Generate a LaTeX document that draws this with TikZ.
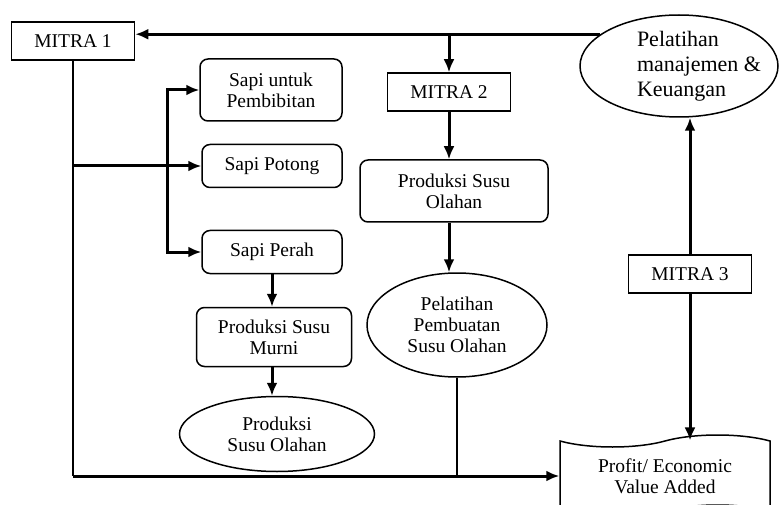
\documentclass[tikz,border=0pt]{standalone}
\usepackage{fontspec}
\setmainfont{Liberation Serif}
\usetikzlibrary{shapes.geometric,shapes.symbols,arrows.meta,positioning}

\begin{document}
\begin{tikzpicture}[
        x=1pt, y=-1pt,
        >={Latex[length=13pt,width=11pt]},
        font=\fontsize{19.5}{21}\selectfont,
        box/.style={draw, line width=1.5pt, minimum width=123pt, minimum height=38pt, inner sep=2pt},
        rbox/.style={draw, line width=1.5pt, rounded corners=8pt, align=center, inner sep=2pt},
        oval/.style={draw, ellipse, line width=1.5pt, align=center, inner sep=0pt},
        doc/.style={draw, tape, line width=1.5pt, align=center, tape bend height=12pt},
        arr/.style={->, line width=3pt},
        link/.style={line width=1.5pt}
    ]
        \clip (0,0) rectangle (779,505);

        \node[box] (m1) at (73,41) {MITRA 1};
        \node[box] (m2) at (449,92) {MITRA 2};
        \node[box] (m3) at (690,274) {MITRA 3};

        \node[rbox, minimum width=142pt, minimum height=62pt] (pemb) at (271,90) {Sapi untuk\\Pembibitan};
        \node[rbox, minimum width=140pt, minimum height=43pt] (potong) at (272,166) {Sapi Potong};
        \node[rbox, minimum width=140pt, minimum height=43pt] (perah) at (272,252) {Sapi Perah};
        \node[rbox, minimum width=155pt, minimum height=59pt] (murni) at (274,337) {Produksi Susu\\Murni};
        \node[oval, minimum width=195pt, minimum height=75pt] (olah1) at (277,434) {Produksi\\Susu Olahan};

        \node[rbox, minimum width=188pt, minimum height=62pt] (olah2) at (454,191) {Produksi Susu\\Olahan};
        \node[oval, minimum width=180pt, minimum height=104pt] (latih1) at (457,325) {Pelatihan\\Pembuatan\\Susu Olahan};

        \node[oval, minimum width=198pt, minimum height=102pt] (latih2) at (679,66) {};
        \node[align=left, font=\fontsize{22}{25}\selectfont] (latih2txt) at (699,66) {Pelatihan\\manajemen \&\\Keuangan};

        \node[doc, minimum width=210pt, minimum height=82pt] (profit) at (665,476) {Profit/ Economic\\Value Added};

        % top line back to MITRA 1
        \draw[arr] (latih2.158) -- (latih2.158 -| m1.east);
        \draw[arr] (m2.north |- latih2.158) -- (m2.north);
        \draw[arr] (m2.south) -- (m2.south |- olah2.north);
        \draw[arr] (m2.south |- olah2.south) -- (m2.south |- latih1.north);
        \draw[link] (latih1.south) -- (latih1.south |- profit.west);

        % MITRA 1 branch
        \coordinate (fork) at (167,0);
        \draw[link] (m1.south) -- (m1.south |- profit.west);
        \draw[arr] (m1.south |- profit.west) -- (profit.west);
        \draw[arr] (m1.south |- potong.west) -- (potong.west);
        \draw[arr, <->] (pemb.west) -- (pemb.west -| fork) -- (perah.west -| fork) -- (perah.west);
        \draw[arr] (perah.south) -- (perah.south |- murni.north);
        \draw[arr] (perah.south |- murni.south) -- (perah.south |- olah1.north);

        % MITRA 3
        \draw[arr] (m3.north) -- (m3.north |- latih2.south);
        \draw[arr] (m3.south) -- (m3.south |- profit.north);

    \end{tikzpicture}
\end{document}
